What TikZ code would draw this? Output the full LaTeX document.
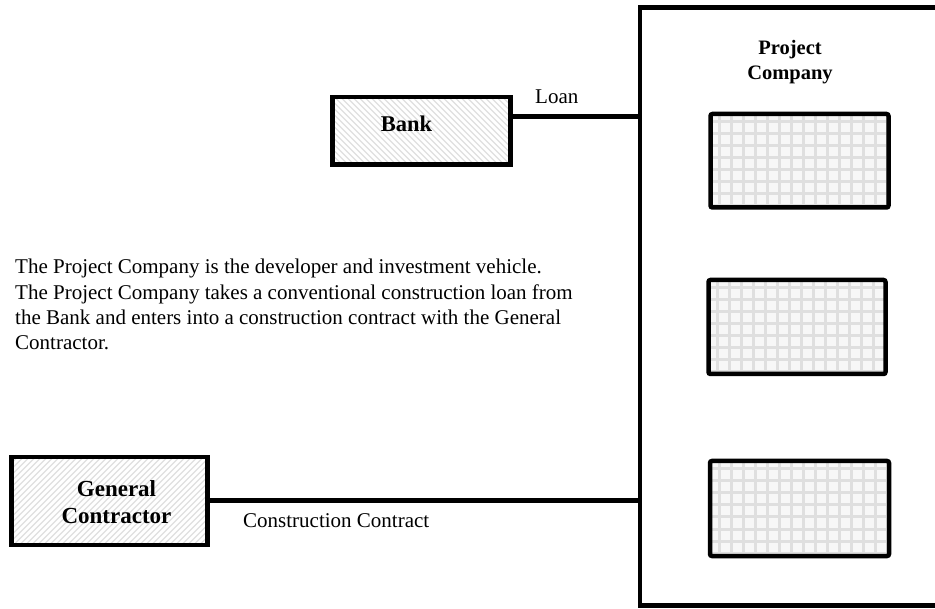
\documentclass[tikz,border=0pt]{standalone}
\usepackage{fontspec}
\setmainfont{Liberation Serif}
\begin{document}
\begin{tikzpicture}[x=1pt,y=-1pt,
  frame/.style={draw=black, line width=4.5pt},
  conn/.style={draw=black, line width=5pt},
  hatchbox/.style={frame, fill=white, inner sep=0pt, align=center,
    font=\fontsize{22.5}{26}\selectfont\bfseries,
    path picture={
      \foreach \k in {0,...,80}{
        \draw[gray!25, line width=1.3pt]
          ([xshift=\k*6pt-250pt]path picture bounding box.north west) -- ++(300pt,-300pt);
      }}},
  hatchboxb/.style={frame, fill=white, inner sep=0pt, align=center,
    font=\fontsize{23}{26}\selectfont\bfseries,
    path picture={
      \foreach \k in {0,...,80}{
        \draw[gray!25, line width=1.3pt]
          ([xshift=\k*6pt-250pt]path picture bounding box.south west) -- ++(300pt,300pt);
      }}},
  gridbox/.style={frame, rounded corners=2pt, fill=gray!6, inner sep=0pt,
    path picture={
      \foreach \k in {0,...,16}{
        \draw[gray!25, line width=3pt]
          ([xshift=\k*12pt-3pt]path picture bounding box.south west) -- ++(0pt,120pt);
      }
      \foreach \k in {0,...,9}{
        \draw[gray!25, line width=3pt]
          ([yshift=-\k*12pt-8pt]path picture bounding box.north west) -- ++(200pt,0pt);
      }}},
  txt/.style={font=\fontsize{21}{25.3}\selectfont, inner sep=0pt},
  title/.style={font=\fontsize{20.5}{25}\selectfont\bfseries, align=center, inner sep=0pt},
]
\useasboundingbox[fill=white] (0,0) rectangle (935,609);

% Project Company frame
\node[frame, fill=white, minimum width=330pt, minimum height=598pt, inner sep=0pt] (pc) at (805,306.5) {};
\node[title, anchor=north] (pctitle) at (790,40) {Project\\Company};

% inner boxes
\node[gridbox, minimum width=178pt, minimum height=93.5pt] (g1) at (799.5,160.75) {};
\node[gridbox, minimum width=177pt, minimum height=94pt] (g2) at (797,327) {};
\node[gridbox, minimum width=179pt, minimum height=95pt] (g3) at (799.5,508.5) {};

% Bank
\node[hatchbox, minimum width=178pt, minimum height=67.5pt] (bank) at (421.5,130.75) {};
\node[font=\fontsize{22.5}{26}\selectfont\bfseries, inner sep=0pt] (banklbl) at ([xshift=-15pt,yshift=7pt]bank.center) {Bank};
% General Contractor
\node[hatchboxb, minimum width=196pt, minimum height=88pt] (gc) at (109.5,501) {};
\node[font=\fontsize{23}{27}\selectfont\bfseries, align=center, inner sep=0pt] (gclbl) at ([xshift=7pt,yshift=-1pt]gc.center) {General\\Contractor};

% connectors
\draw[conn] ([yshift=14pt]bank.east) -- ([yshift=14pt]bank.east -| pc.west);
\draw[conn] (gc.east) -- (gc.east -| pc.west);

% labels
\node[txt, anchor=base west] (loan) at (535,103.5) {Loan};
\node[txt, anchor=base west] (cc) at (243,528) {Construction Contract};

\node[txt, anchor=north west, align=left] (para) at (15,259) {The Project Company is the developer and investment vehicle.\\
The Project Company takes a conventional construction loan from\\
the Bank and enters into a construction contract with the General\\
Contractor.};
\end{tikzpicture}
\end{document}
